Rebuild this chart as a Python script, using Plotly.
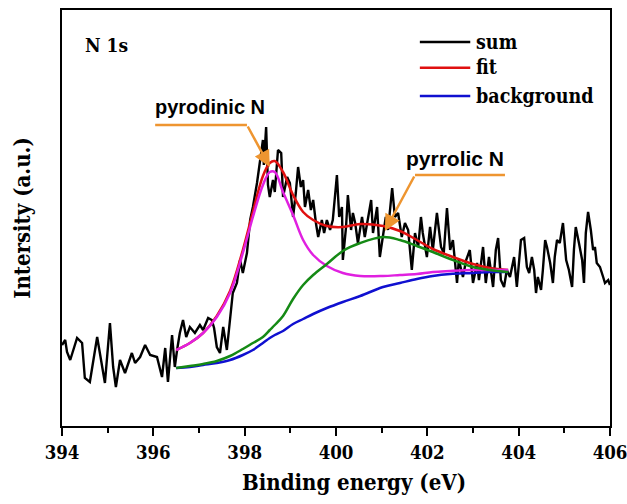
import plotly.graph_objects as go

# ---- measured spectrum (Binding energy eV, intensity a.u.) ----
sum_x = [394.00, 394.07, 394.11, 394.18, 394.33, 394.44, 394.50, 394.61, 394.77, 394.88,
         394.94, 395.05, 395.12, 395.18, 395.27, 395.38, 395.53, 395.60, 395.71, 395.82,
         395.93, 396.08, 396.19, 396.26, 396.32, 396.41, 396.47, 396.52, 396.58, 396.65,
         396.72, 396.80, 396.91, 397.02, 397.09, 397.20, 397.28, 397.33, 397.39, 397.46,
         397.53, 397.61, 397.68, 397.74, 397.83, 397.90, 397.96, 398.05, 398.12, 398.18,
         398.27, 398.34, 398.40, 398.42, 398.47, 398.51, 398.55, 398.62, 398.66, 398.73,
         398.80, 398.84, 398.93, 398.99, 399.06, 399.12, 399.17, 399.23, 399.28, 399.32,
         399.39, 399.45, 399.50, 399.56, 399.61, 399.69, 399.74, 399.80, 399.87, 399.93,
         400.02, 400.07, 400.13, 400.15, 400.22, 400.26, 400.33, 400.37, 400.42, 400.48,
         400.57, 400.63, 400.70, 400.77, 400.81, 400.90, 400.96, 401.03, 401.09, 401.14,
         401.23, 401.29, 401.36, 401.44, 401.51, 401.58, 401.66, 401.73, 401.80, 401.86,
         401.90, 401.99, 402.06, 402.12, 402.21, 402.30, 402.36, 402.43, 402.50, 402.56,
         402.65, 402.69, 402.78, 402.85, 402.93, 403.00, 403.09, 403.13, 403.22, 403.28,
         403.35, 403.44, 403.50, 403.55, 403.61, 403.68, 403.74, 403.81, 403.90, 403.96,
         404.05, 404.12, 404.18, 404.23, 404.29, 404.34, 404.38, 404.42, 404.49, 404.53,
         404.58, 404.62, 404.69, 404.75, 404.79, 404.84, 404.90, 404.97, 405.04, 405.10,
         405.17, 405.21, 405.25, 405.32, 405.39, 405.43, 405.47, 405.52, 405.58, 405.63,
         405.67, 405.71, 405.78, 405.85, 405.89, 405.96, 406.00]
sum_y = [81, 86, 74, 66, 88, 83, 48, 44, 89, 59,
         43, 103, 59, 39, 66, 53, 73, 63, 69, 81,
         71, 69, 49, 78, 44, 91, 59, 76, 93, 106,
         89, 99, 93, 101, 96, 108, 106, 98, 79, 73,
         99, 76, 106, 133, 143, 166, 153, 173, 206, 219,
         243, 266, 286, 261, 299, 241, 229, 246, 234, 276,
         273, 229, 249, 243, 209, 233, 259, 239, 246, 219,
         236, 216, 226, 203, 189, 206, 193, 206, 196, 206,
         251, 209, 219, 166, 199, 231, 196, 213, 203, 183,
         209, 189, 206, 226, 193, 219, 169, 189, 209, 196,
         238, 209, 213, 189, 203, 196, 156, 193, 179, 209,
         193, 169, 199, 176, 213, 179, 173, 218, 176, 186,
         143, 166, 149, 166, 176, 143, 163, 146, 179, 143,
         169, 139, 176, 188, 146, 139, 156, 149, 169, 139,
         186, 188, 159, 153, 169, 156, 133, 149, 136, 156,
         186, 179, 163, 143, 169, 186, 183, 203, 166, 156,
         139, 176, 199, 183, 166, 143, 193, 214, 196, 176,
         179, 163, 159, 149, 143, 146, 141]

# ---- fitted curves ----
fit_x = [396.50, 396.80, 397.09, 397.39, 397.68, 397.96, 398.18, 398.40, 398.55, 398.66,
         398.84, 399.06, 399.28, 399.50, 399.80, 400.15, 400.53, 401.03, 401.40, 401.77,
         402.12, 402.50, 403.00, 403.37, 403.77]
fit_y = [76, 83, 93, 110, 135, 176, 214, 250, 263, 265,
         254, 231, 214, 206, 200, 199, 202, 200, 195, 186,
         177, 170, 162, 158, 156]
background_y = [58, 59, 61, 63, 66, 71, 76, 83, 88, 91,
                95, 102, 107, 112, 118, 124, 130, 139, 143, 147,
                150, 152, 153, 154, 154]
pyridinic_y = [76, 83, 93, 109, 133, 173, 209, 241, 254, 254,
               234, 211, 186, 171, 160, 153, 150, 150, 151, 152,
               154, 155, 156, 156, 156]
pyrrolic_y = [58, 60, 62, 65, 70, 77, 83, 89, 96, 101,
              110, 127, 141, 151, 162, 175, 183, 189, 186, 180,
              174, 167, 159, 156, 154]

x_ticks = [394, 396, 398, 400, 402, 404, 406]
legend_names = ["sum", "fit", "background"]
legend_colors = ["black", "#E01010", "#1010D0"]
legend_rows = [0.923, 0.861, 0.793]   # paper y of legend rows

SERIF = "DejaVu Serif Condensed"
SANS = "Liberation Sans"
ORANGE = "#EE9530"

fig = go.Figure()
fig.add_trace(go.Scatter(x=sum_x, y=sum_y, mode="lines", name="sum",
                         line=dict(color="black", width=2.4)))
fig.add_trace(go.Scatter(x=fit_x, y=fit_y, mode="lines", name="fit",
                         line=dict(color=legend_colors[1], width=2.5, shape="spline")))
fig.add_trace(go.Scatter(x=fit_x, y=background_y, mode="lines", name="background",
                         line=dict(color=legend_colors[2], width=2.5, shape="spline")))
fig.add_trace(go.Scatter(x=fit_x, y=pyridinic_y, mode="lines", name="pyrodinic N",
                         line=dict(color="#E020E0", width=2.5, shape="spline")))
fig.add_trace(go.Scatter(x=fit_x, y=pyrrolic_y, mode="lines", name="pyrrolic N",
                         line=dict(color="#158A15", width=2.5, shape="spline")))

for name, col, yy in zip(legend_names, legend_colors, legend_rows):
    fig.add_shape(type="line", xref="paper", yref="paper", x0=0.653, x1=0.745,
                  y0=yy, y1=yy, line=dict(color=col, width=2.5))
    fig.add_annotation(xref="paper", yref="paper", x=0.752, y=yy, xanchor="left",
                       yanchor="middle", text="<b>" + name + "</b>", showarrow=False,
                       font=dict(family=SERIF, size=19.5, color="black"))

fig.add_shape(type="line", x0=396.04, y0=301, x1=398.05, y1=301,
              line=dict(color=ORANGE, width=2.5))
fig.add_annotation(x=398.55, y=259, ax=398.05, ay=301, axref="x", ayref="y",
                   showarrow=True, arrowhead=2, arrowsize=1.3, arrowwidth=2.5,
                   arrowcolor=ORANGE, text="")
fig.add_annotation(x=397.24, y=319, text="<b>pyrodinic N</b>", showarrow=False,
                   font=dict(family=SANS, size=20, color="black"))

fig.add_shape(type="line", x0=401.73, y0=251, x1=403.70, y1=251,
              line=dict(color=ORANGE, width=2.5))
fig.add_annotation(x=401.07, y=195, ax=401.73, ay=251, axref="x", ayref="y",
                   showarrow=True, arrowhead=2, arrowsize=1.3, arrowwidth=2.5,
                   arrowcolor=ORANGE, text="")
fig.add_annotation(x=402.61, y=268, text="<b>pyrrolic N</b>", showarrow=False,
                   font=dict(family=SANS, size=21, color="black"))

fig.add_annotation(xref="paper", yref="paper", x=0.038, y=0.916, xanchor="left",
                   yanchor="middle", text="<b>N 1s</b>", showarrow=False,
                   font=dict(family=SERIF, size=19, color="black"))

# x-axis title (sits slightly right of centre in the original)
fig.add_annotation(xref="paper", yref="paper", x=0.533, y=-0.135, xanchor="center",
                   yanchor="middle", text="<b>Binding energy (eV)</b>", showarrow=False,
                   font=dict(family=SERIF, size=22, color="black"))

fig.update_layout(
    width=627, height=504,
    margin=dict(l=62, r=17, t=10, b=78),
    paper_bgcolor="white", plot_bgcolor="white",
    showlegend=False,
    font=dict(family=SERIF, size=18, color="black"),
    xaxis=dict(range=[394, 406], tickvals=x_ticks,
               ticktext=["<b>%d</b>" % v for v in x_ticks],
               ticks="outside", ticklen=8,
               tickwidth=2, tickcolor="black", showline=True, linewidth=2,
               linecolor="black", mirror=True, showgrid=False, zeroline=False,
               automargin=False, ticklabelstandoff=1, ticklabeloverflow="allow",
               minor=dict(dtick=1, ticks="outside", ticklen=5, tickwidth=2,
                          tickcolor="black"),
               tickfont=dict(family=SERIF, size=18.5, color="black")),
    yaxis=dict(range=[0, 416], showticklabels=False, ticks="", showline=True,
               linewidth=2, linecolor="black", mirror=True, showgrid=False,
               zeroline=False, automargin=False,
               title=dict(text="<b>Intersity (a.u.)</b>", standoff=23,
                          font=dict(family=SERIF, size=22, color="black"))),
)

fig.write_html("out.html")
